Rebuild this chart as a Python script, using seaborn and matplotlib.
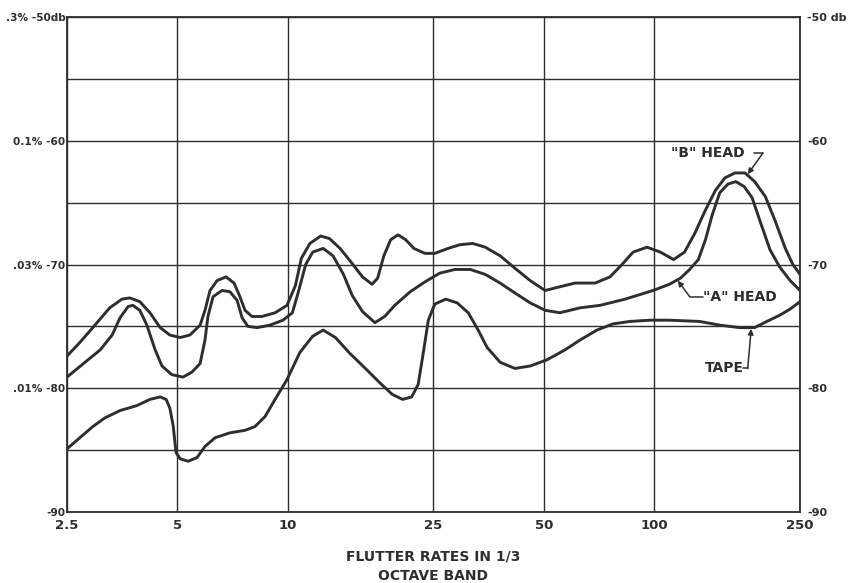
import matplotlib
matplotlib.use("Agg")
import matplotlib.pyplot as plt
import numpy as np
import pandas as pd
import seaborn as sns

# flutter spectra (Hz, dB)
b_head_hz = [2.50, 2.71, 2.94, 3.27, 3.53, 3.71, 3.95, 4.21, 4.49, 4.77, 5.09, 5.41,
             5.77, 5.95, 6.14, 6.42, 6.79, 7.14, 7.41, 7.65, 7.99, 8.51, 9.24, 9.96,
             10.5, 10.9, 11.5, 12.3, 13.0, 13.9, 14.8, 16.0, 17.0, 17.6, 18.3, 19.1,
             20.0, 21.0, 22.1, 23.7, 25.2, 27.4, 29.5, 32.0, 34.6, 38.0, 41.7, 45.9,
             50.4, 55.3, 60.8, 69.0, 75.8, 81.7, 87.6, 95.6, 104, 113, 121, 129, 138,
             147, 156, 166, 177, 188, 201, 214, 228, 239, 250]
b_head_db = [-77.4, -76.3, -75.1, -73.5, -72.8, -72.7, -73.0, -73.9, -75.1, -75.7, -75.9, -75.7,
             -74.9, -73.7, -72.1, -71.3, -71.0, -71.5, -72.6, -73.7, -74.2, -74.2, -73.9, -73.3,
             -71.7, -69.5, -68.3, -67.7, -67.9, -68.7, -69.7, -71.0, -71.6, -71.1, -69.3, -68.0,
             -67.6, -68.0, -68.7, -69.1, -69.1, -68.7, -68.4, -68.3, -68.6, -69.3, -70.3, -71.3,
             -72.1, -71.8, -71.5, -71.5, -71.0, -70.0, -69.0, -68.6, -69.0, -69.6, -69.0, -67.5, -65.6,
             -64.0, -63.0, -62.6, -62.6, -63.3, -64.5, -66.5, -68.7, -70.0, -70.8]

a_head_hz = [2.50, 2.80, 3.08, 3.32, 3.49, 3.67, 3.78, 3.95, 4.13, 4.35, 4.54, 4.83, 5.18,
             5.48, 5.77, 5.95, 6.06, 6.26, 6.62, 6.96, 7.28, 7.51, 7.79, 8.25, 8.95, 9.71,
             10.3, 10.7, 11.2, 11.7, 12.5, 13.3, 14.2, 15.0, 16.0, 17.3, 18.4, 19.6, 21.6,
             23.7, 26.0, 28.6, 31.5, 34.6, 38.0, 41.7, 45.9, 50.4, 55.3, 62.8, 71.2, 83.3,
             99.3, 110, 118, 125, 132, 138, 144, 151, 159, 167, 176, 185, 194, 207, 220, 235, 250]
a_head_db = [-79.1, -77.9, -76.9, -75.7, -74.3, -73.4, -73.3, -73.7, -74.9, -76.9, -78.2, -78.9, -79.1,
             -78.7, -78.0, -76.1, -74.2, -72.6, -72.1, -72.2, -72.9, -74.3, -75.0, -75.1, -74.9, -74.5,
             -73.9, -72.2, -70.0, -69.0, -68.7, -69.3, -70.8, -72.5, -73.8, -74.7, -74.2, -73.3, -72.2,
             -71.4, -70.7, -70.4, -70.4, -70.8, -71.5, -72.3, -73.1, -73.7, -73.9, -73.5, -73.3, -72.8,
             -72.1, -71.6, -71.1, -70.4, -69.6, -68.0, -66.0, -64.2, -63.5, -63.3, -63.7, -64.6, -66.4,
             -68.8, -70.2, -71.3, -72.1]

tape_hz = [2.50, 2.71, 2.94, 3.17, 3.49, 3.88, 4.21, 4.49, 4.66, 4.77, 4.87, 4.96, 5.09, 5.35,
           5.66, 5.95, 6.34, 6.96, 7.65, 8.14, 8.67, 9.24, 9.96, 10.8, 11.7, 12.5, 13.5, 14.8,
           16.3, 17.9, 19.3, 20.6, 21.8, 22.7, 23.4, 24.2, 25.2, 27.0, 29.0, 31.1, 33.1, 35.0,
           38.0, 41.7, 45.9, 51.0, 57.1, 62.8, 69.8, 77.2, 85.9, 97.4, 110, 133, 151, 171, 188,
           203, 220, 235, 250]
tape_db = [-84.9, -84.0, -83.1, -82.4, -81.8, -81.4, -80.9, -80.7, -80.9, -81.6, -83.0, -85.2, -85.7, -85.9,
           -85.6, -84.7, -84.0, -83.6, -83.4, -83.1, -82.3, -80.9, -79.3, -77.1, -75.8, -75.3, -75.9, -77.2,
           -78.4, -79.6, -80.5, -80.9, -80.7, -79.7, -77.3, -74.5, -73.2, -72.8, -73.1, -73.9, -75.3, -76.7,
           -77.9, -78.4, -78.2, -77.7, -76.9, -76.1, -75.3, -74.8, -74.6, -74.5, -74.5, -74.6, -74.9, -75.1, -75.1,
           -74.6, -74.1, -73.6, -73.0]

x_ticks = [2.5, 5, 10, 25, 50, 100, 250]
x_tick_labels = ["2.5", "5", "10", "25", "50", "100", "250"]
y_ticks = [-50, -55, -60, -65, -70, -75, -80, -85, -90]
left_labels = [".3% -50db", "", "0.1% -60", "", ".03% -70", "", ".01% -80", "", "-90"]
right_labels = ["-50 db", "", "-60", "", "-70", "", "-80", "", "-90"]

INK = "#2e2e2e"

df = pd.concat([
    pd.DataFrame({"hz": b_head_hz, "db": b_head_db, "curve": "B"}),
    pd.DataFrame({"hz": a_head_hz, "db": a_head_db, "curve": "A"}),
    pd.DataFrame({"hz": tape_hz, "db": tape_db, "curve": "TAPE"}),
], ignore_index=True)

sns.set_style("white")
plt.rcParams["font.family"] = ["DejaVu Sans"]

fig = plt.figure(figsize=(8.49, 5.83), dpi=100)
ax = fig.add_axes([0.0789, 0.1218, 0.8634, 0.849])

sns.lineplot(data=df, x="hz", y="db", hue="curve", units="curve", estimator=None,
             sort=False, palette={"B": INK, "A": INK, "TAPE": INK},
             linewidth=2.1, legend=False, ax=ax)

ax.set_xscale("log")
ax.set_xlim(2.5, 250)
ax.set_ylim(-90, -50)
ax.set_xticks(x_ticks)
ax.set_xticklabels(x_tick_labels, fontsize=9.5, fontweight="bold", color=INK)
ax.xaxis.set_minor_locator(matplotlib.ticker.NullLocator())
ax.set_yticks(y_ticks)
ax.set_yticklabels(left_labels, fontsize=7.6, fontweight="bold", color=INK)
ax.tick_params(axis="both", length=0)
ax.tick_params(axis="y", pad=1)
ax.tick_params(axis="x", pad=5)
ax.grid(True, color=INK, linewidth=1.0)
for s in ax.spines.values():
    s.set_color(INK)
    s.set_linewidth(1.3)

ax2 = ax.twinx()
ax2.set_ylim(-90, -50)
ax2.set_yticks(y_ticks)
ax2.set_yticklabels(right_labels, fontsize=8, fontweight="bold", color=INK)
ax2.tick_params(axis="y", length=0, pad=5)
for s in ax2.spines.values():
    s.set_visible(False)

ax.set_xlabel("FLUTTER RATES IN 1/3\nOCTAVE BAND", fontsize=10, fontweight="bold",
              color=INK, labelpad=13, linespacing=1.45)
ax.set_ylabel("")

txt = dict(fontsize=10, fontweight="bold", color=INK, va="center")
arrow = dict(arrowstyle="-|>", color=INK, lw=1.1, mutation_scale=8, shrinkA=0, shrinkB=0)

# "B" HEAD label + leader
ax.text(140, -61.0, '"B" HEAD', ha="center", **txt)
ax.plot([187, 198], [-61.0, -61.0], color=INK, lw=1.1)
ax.annotate("", xy=(180, -62.7), xytext=(198, -61.0), arrowprops=arrow)

# "A" HEAD label + leader
ax.text(171, -72.6, '"A" HEAD', ha="center", **txt)
ax.plot([125, 136], [-72.6, -72.6], color=INK, lw=1.1)
ax.annotate("", xy=(116, -71.3), xytext=(125, -72.6), arrowprops=arrow)

# TAPE label + leader
ax.text(155, -78.4, "TAPE", ha="center", **txt)
ax.plot([175, 180], [-78.4, -78.4], color=INK, lw=1.1)
ax.annotate("", xy=(184, -75.2), xytext=(180, -78.4), arrowprops=arrow)

fig.savefig("out.png", dpi=100, facecolor="white")
